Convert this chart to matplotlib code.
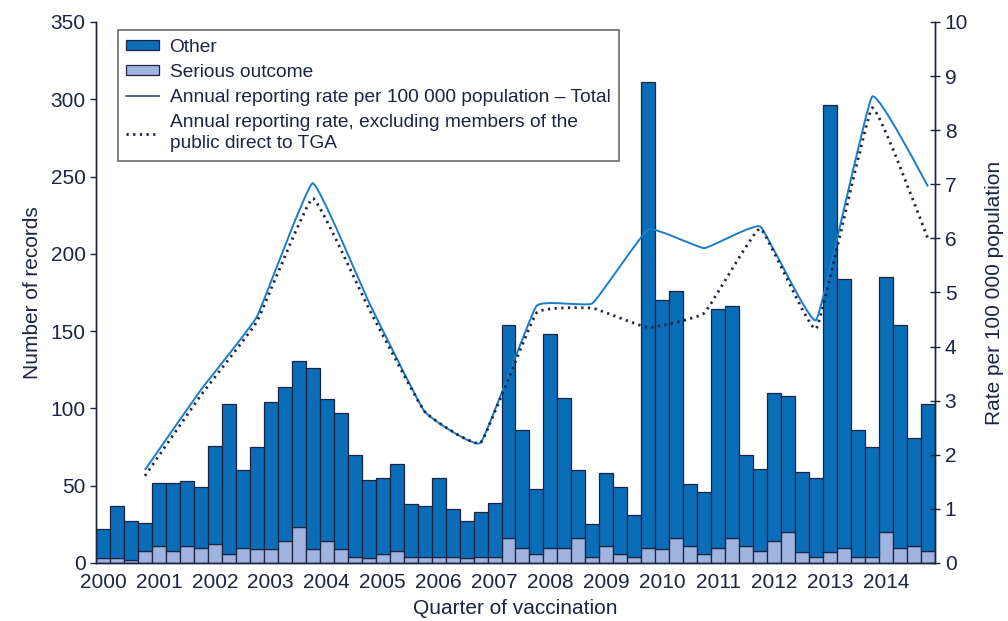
import matplotlib.pyplot as plt
from matplotlib.path import Path
from matplotlib.patches import PathPatch, Patch
from matplotlib.lines import Line2D
import numpy as np

plt.rcParams['font.family'] = ['Liberation Sans', 'DejaVu Sans']

# quarterly report counts, 2000 Q1 .. 2014 Q4
total_records = [22, 37, 27, 26, 52, 52, 53, 49, 76, 103, 60, 75,
                 104, 114, 131, 126, 106, 97, 70, 54, 55, 64, 38, 37,
                 55, 35, 27, 33, 39, 154, 86, 48, 148, 107, 60, 25,
                 58, 49, 31, 311, 170, 176, 51, 46, 164, 166, 70, 61,
                 110, 108, 59, 55, 296, 184, 86, 75, 185, 154, 81, 103]
serious = [3, 3, 2, 8, 11, 8, 11, 10, 12, 6, 10, 9,
           9, 14, 23, 9, 14, 9, 4, 3, 6, 8, 4, 4,
           4, 4, 3, 4, 4, 16, 10, 6, 10, 10, 16, 4,
           11, 6, 4, 10, 9, 16, 11, 6, 10, 16, 11, 8,
           14, 20, 7, 4, 7, 10, 4, 4, 20, 10, 11, 8]
other = [t - s for t, s in zip(total_records, serious)]

years = list(range(2000, 2015))
rate_total = [1.72, 3.2, 4.55, 7.02, 4.83, 2.80, 2.22, 4.75, 4.80, 6.17, 5.82, 6.22, 4.49, 8.62, 6.96]
rate_excl = [1.61, 3.1, 4.46, 6.74, 4.71, 2.80, 2.22, 4.62, 4.71, 4.35, 4.62, 6.18, 4.33, 8.41, 5.99]

navy = '#1c2440'
c_other = '#0a6db7'
c_serious = '#9fb4de'
c_line = '#1a7ccb'
fs = 15


def smooth_path(xs, ys, k=0.05):
    # bezier curve through the yearly points (like a spreadsheet "smoothed line")
    pts = np.column_stack([xs, ys]).astype(float)
    n = len(pts)
    verts = [tuple(pts[0])]
    codes = [Path.MOVETO]
    for i in range(n - 1):
        p0 = pts[i - 1] if i > 0 else pts[i]
        p1 = pts[i]
        p2 = pts[i + 1]
        p3 = pts[i + 2] if i + 2 < n else pts[i + 1]
        c1 = p1 + (p2 - p0) * k
        c2 = p2 - (p3 - p1) * k
        verts += [tuple(c1), tuple(c2), tuple(p2)]
        codes += [Path.CURVE4] * 3
    return Path(verts, codes)


fig = plt.figure(figsize=(10.08, 6.21), dpi=100)
ax = fig.add_axes([0.0952, 0.0934, 0.8324, 0.8712])
ax2 = ax.twinx()

x = np.arange(len(total_records))
ax.bar(x, serious, width=1.0, color=c_serious, edgecolor=navy, linewidth=0.9)
ax.bar(x, other, bottom=serious, width=1.0, color=c_other, edgecolor=navy, linewidth=0.9)

ax.set_xlim(-0.5, len(x) - 0.5)
ax.set_ylim(0, 350)
ax.set_yticks(range(0, 351, 50))
ax.set_xticks([4 * i for i in range(len(years))])
ax.set_xticklabels([str(y) for y in years])
ax.tick_params(axis='x', length=0, pad=7, labelsize=fs, colors=navy)
ax.tick_params(axis='y', direction='out', length=4, labelsize=fs, colors=navy, width=1)
ax.set_ylabel('Number of records', fontsize=fs, color=navy, labelpad=6)
ax.set_xlabel('Quarter of vaccination', fontsize=fs, color=navy, labelpad=5)

xr = [4 * i + 3 for i in range(len(years))]
ax2.add_patch(PathPatch(smooth_path(xr, rate_total), fill=False, edgecolor=c_line, linewidth=1.4))
ax2.add_patch(PathPatch(smooth_path(xr, rate_excl), fill=False, edgecolor=navy, linewidth=2.0,
                        linestyle=(0, (0.8, 1.6))))
ax2.set_ylim(0, 10)
ax2.set_yticks(range(0, 11))
ax2.tick_params(axis='y', direction='inout', length=7, labelsize=fs, colors=navy, width=1)
ax2.set_ylabel('Rate per 100 000 population', fontsize=fs, color=navy, labelpad=12)

for a in (ax, ax2):
    a.spines['top'].set_visible(False)
    for s in ('left', 'right', 'bottom'):
        a.spines[s].set_color(navy)
        a.spines[s].set_linewidth(1.0)

handles = [Patch(facecolor=c_other, edgecolor=navy, linewidth=0.9),
           Patch(facecolor=c_serious, edgecolor=navy, linewidth=0.9),
           Line2D([], [], color='#3a4a70', linewidth=1.2),
           Line2D([], [], color=navy, linewidth=2.0, linestyle=(0, (0.8, 1.6)))]
labels = ['Other', 'Serious outcome',
          'Annual reporting rate per 100 000 population \u2013 Total',
          'Annual reporting rate, excluding members of the\npublic direct to TGA']
leg = ax2.legend(handles, labels, loc='upper left', bbox_to_anchor=(0.026, 0.985),
                 fontsize=13.8, frameon=True, fancybox=False, handlelength=1.7,
                 handleheight=0.4, handletextpad=0.55, labelspacing=0.42,
                 borderpad=0.45, borderaxespad=0)
leg.get_frame().set_edgecolor('#444444')
leg.get_frame().set_linewidth(1.2)
for t in leg.get_texts():
    t.set_color(navy)
    t.set_linespacing(1.35)

fig.savefig('out.png', dpi=100)
